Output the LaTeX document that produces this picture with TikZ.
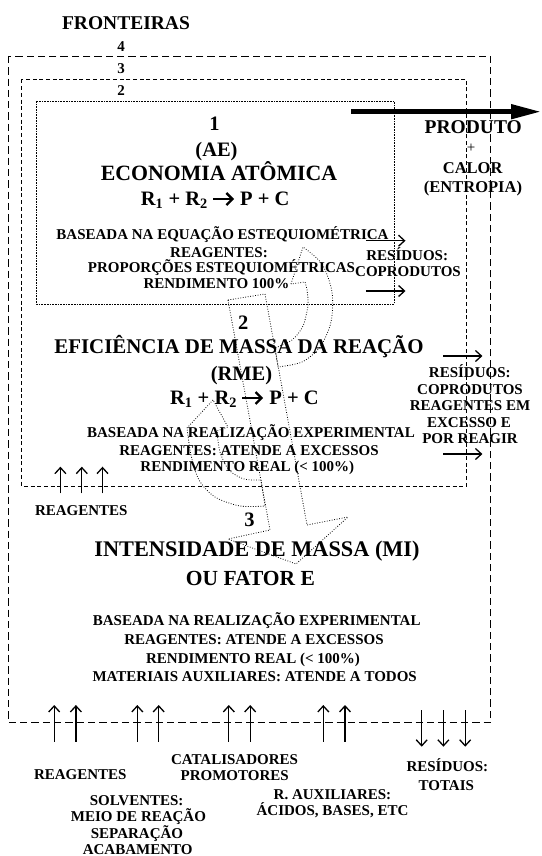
\documentclass[tikz,border=0pt]{standalone}
\usepackage{fontspec}
\setmainfont{Liberation Serif}
\usetikzlibrary{arrows.meta}
\tikzset{
  big/.style={font=\fontsize{20.5}{22}\selectfont\bfseries, inner sep=0pt, anchor=base},
  small/.style={font=\fontsize{15}{17}\selectfont\bfseries, inner sep=0pt, anchor=base},
  mid/.style={font=\fontsize{16.5}{18}\selectfont\bfseries, inner sep=0pt, anchor=base},
  bound4/.style={line width=0.9pt, dash pattern=on 7.3pt off 4pt},
  bound3/.style={line width=0.9pt, dash pattern=on 4pt off 2.7pt},
  bound2/.style={line width=0.7pt, dash pattern=on 1.7pt off 1pt},
  dotline/.style={line width=0.8pt, dash pattern=on 0.8pt off 1.7pt, line join=round},
  flowarr/.style={line width=1.3pt, -{Straight Barb[length=6pt,width=11pt,line width=1.3pt]}},
  chemarr/.style={line width=2.3pt, -{Straight Barb[length=6pt,width=12pt,line width=2.3pt]}},
  prodarr/.style={line width=4.7pt, -{Triangle[length=30pt,width=14pt]}}
}
\begin{document}
\begin{tikzpicture}[x=1pt,y=-1pt]
\useasboundingbox (0,0) rectangle (541,856);

% boundaries
\draw[bound4] (8.5,56) rectangle (490.5,722.3);
\draw[bound3] (21.7,79.5) rectangle (466.8,486);
\draw[bound2] (36.5,101) rectangle (394.4,304);

% dotted block arrow
\draw[dotline] (228,300) -- (265,294) -- (307,525) -- (348,517) -- (296,564) -- (228,539) -- (270,530) -- cycle;
% upper curved arrow
\draw[dotline] (291,284) -- plot[smooth] coordinates {(303,247) (322,264) (332,292) (331,322) (320,347) (302,362) (278,367)}
  -- plot[smooth] coordinates {(275,348) (292,340) (303,326) (308,305) (307,290) (305,282)} -- cycle;
% lower curved arrow
\draw[dotline] (213,400) -- plot[smooth] coordinates {(187,428) (191,455) (199,480) (215,497) (240,506) (265,506)}
  -- plot[smooth] coordinates {(261,480) (244,479) (229,470) (220,452) (217,431)} -- (228,427) -- cycle;

% product arrow
\coordinate (pa) at (351,111.7);
\coordinate (pb) at (541,111.7);
\draw[prodarr] (pa) -- (pb);

% header
\node[font=\fontsize{19.5}{21}\selectfont\bfseries, inner sep=0pt, anchor=base] (front) at (126,29.7) {FRONTEIRAS};
\node[small] (n4) at (121,51.7) {4};
\node[small] (n3) at (121,74) {3};
\node[small] (n2) at (121,96) {2};

% box 1
\node[big] (b1n) at (214.6,130.7) {1};
\node[big] (b1ae) at (216.5,156.7) {(AE)};
\node[big, font=\fontsize{21.8}{23}\selectfont\bfseries] (b1t) at (219,180) {ECONOMIA ATÔMICA};
\node[big, anchor=base east] (b1rl) at (208,205) {R\textsubscript{1} + R\textsubscript{2}};
\node[big, anchor=base west] (b1rr) at (240,205) {P + C};
\coordinate (c1s) at (213,199);
\coordinate (c1e) at (234,199);
\draw[chemarr] (c1s) -- (c1e);
\node[small] (b1a) at (222.5,239.2) {BASEADA NA EQUAÇÃO ESTEQUIOMÉTRICA};
\node[small] (b1b) at (219,257) {REAGENTES:};
\node[small] (b1c) at (221.5,272.6) {PROPORÇÕES ESTEQUIOMÉTRICAS};
\node[small] (b1d) at (216.5,288.8) {RENDIMENTO 100\%};

% product texts
\node[font=\fontsize{19.5}{21}\selectfont\bfseries, inner sep=0pt, anchor=base] (prod) at (473.3,133.5) {PRODUTO};
\node[font=\fontsize{15}{17}\selectfont, inner sep=0pt, anchor=base] (plus) at (471,152) {+};
\node[mid] (calor) at (472.7,173.5) {CALOR};
\node[mid] (entr) at (473,192.5) {(ENTROPIA)};

% residues box 1
\coordinate (r1a) at (365.8,240.7);
\coordinate (r1b) at (405.5,240.7);
\coordinate (r1c) at (365.8,291);
\coordinate (r1d) at (405.5,291);
\draw[flowarr] (r1a) -- (r1b);
\draw[flowarr] (r1c) -- (r1d);
\node[small] (res1a) at (407.2,260.7) {RESÍDUOS:};
\node[small] (res1b) at (408,276.7) {COPRODUTOS};

% box 2 (boundary 3)
\node[big] (b2n) at (243.3,329.3) {2};
\node[big, font=\fontsize{20.9}{22}\selectfont\bfseries] (b2t) at (239,353.3) {EFICIÊNCIA DE MASSA DA REAÇÃO};
\node[big] (b2rme) at (241.5,380) {(RME)};
\node[big, anchor=base east] (b2rl) at (237.2,404) {R\textsubscript{1} + R\textsubscript{2}};
\node[big, anchor=base west] (b2rr) at (269.2,404) {P + C};
\coordinate (c2s) at (242.2,398);
\coordinate (c2e) at (263.2,398);
\draw[chemarr] (c2s) -- (c2e);
\node[small] (b2a) at (251,437.7) {BASEADA NA REALIZAÇÃO EXPERIMENTAL};
\node[small] (b2b) at (249,455) {REAGENTES: ATENDE A EXCESSOS};
\node[small] (b2c) at (247.3,471.5) {RENDIMENTO REAL (< 100\%)};

\coordinate (r2a) at (443.4,356);
\coordinate (r2b) at (482.4,356);
\coordinate (r2c) at (443.4,454);
\coordinate (r2d) at (482.4,454);
\draw[flowarr] (r2a) -- (r2b);
\draw[flowarr] (r2c) -- (r2d);
\node[small] (res2a) at (469.8,377.3) {RESÍDUOS:};
\node[small] (res2b) at (470,394) {COPRODUTOS};
\node[small] (res2c) at (470,410.7) {REAGENTES EM};
\node[small] (res2d) at (469,427.3) {EXCESSO E};
\node[small] (res2e) at (470,443.3) {POR REAGIR};

\foreach \x [count=\i] in {60.4,81.8,102.5}{
  \coordinate (ua\i) at (\x,493.3);
  \coordinate (ub\i) at (\x,466.7);
  \draw[flowarr] (ua\i) -- (ub\i);
}
\node[small] (reag2) at (81.3,515) {REAGENTES};

% box 3 (boundary 4)
\node[big] (b3n) at (249.5,526.7) {3};
\node[big, font=\fontsize{22.3}{24}\selectfont\bfseries] (b3t) at (257,556) {INTENSIDADE DE MASSA (MI)};
\node[big, font=\fontsize{21.5}{23}\selectfont\bfseries] (b3f) at (250.4,585) {OU FATOR E};
\node[small] (b3a) at (256.7,625) {BASEADA NA REALIZAÇÃO EXPERIMENTAL};
\node[small] (b3b) at (254,644) {REAGENTES: ATENDE A EXCESSOS};
\node[small] (b3c) at (253,663) {RENDIMENTO REAL (< 100\%)};
\node[small] (b3d) at (254.7,681.7) {MATERIAIS AUXILIARES: ATENDE A TODOS};

\foreach \x [count=\i] in {54.2,75.9,137.3,158.7,228.8,250.2,323.3,345}{
  \coordinate (va\i) at (\x,741.7);
  \coordinate (vb\i) at (\x,705);
  \draw[flowarr] (va\i) -- (vb\i);
}
\foreach \x [count=\i] in {421.7,443.4,465.2}{
  \coordinate (da\i) at (\x,710);
  \coordinate (db\i) at (\x,746.7);
  \draw[flowarr] (da\i) -- (db\i);
}

\node[small] (lreag) at (80.3,779.3) {REAGENTES};
\node[small] (lcat) at (234.5,764) {CATALISADORES};
\node[small] (lprom) at (234.7,780.7) {PROMOTORES};
\node[small] (lsol) at (136.6,805) {SOLVENTES:};
\node[small] (lmeio) at (138.5,821.7) {MEIO DE REAÇÃO};
\node[small] (lsep) at (137,838.3) {SEPARAÇÃO};
\node[small] (lacab) at (137.7,854) {ACABAMENTO};
\node[small] (laux) at (332.5,799.3) {R. AUXILIARES:};
\node[small] (lacid) at (332.5,815) {ÁCIDOS, BASES, ETC};
\node[small] (lres) at (447.4,771.7) {RESÍDUOS:};
\node[small] (ltot) at (446.3,790) {TOTAIS};
\end{tikzpicture}
\end{document}
